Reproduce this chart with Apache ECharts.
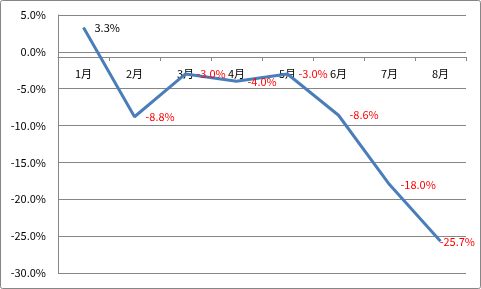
<!DOCTYPE html>
<html><head><meta charset="utf-8">
<script src="https://cdn.jsdelivr.net/npm/echarts@6/dist/echarts.min.js"></script>
<style>html,body{margin:0;padding:0;background:#fff}#c{width:481px;height:289px}</style>
</head><body><div id="c"></div>
<script>
const categories = ['1月','2月','3月','4月','5月','6月','7月','8月'];
const values = [3.3, -8.8, -3.0, -4.0, -3.0, -8.6, -18.0, -25.7];
const labelColors = ['#000000','#FF0000','#FF0000','#FF0000','#FF0000','#FF0000','#FF0000','#FF0000'];
const yTicks = {min: -30, max: 5, interval: 5};

const font = '"Noto Sans CJK JP", "Liberation Sans", sans-serif';
const W = 481;
const chart = echarts.init(document.getElementById('c'), null, {renderer: 'canvas'});
const option = {
  animation: false,
  backgroundColor: '#fff',
  graphic: [{type: 'rect', shape: {x: 0.5, y: 0.5, width: 480, height: 288, r: 2}, style: {fill: 'none', stroke: '#868686', lineWidth: 1}, z: 100}],
  grid: {left: 58, right: 15, top: 15, bottom: 16},
  xAxis: {
    type: 'category', data: categories, boundaryGap: true, position: 'bottom', offset: 0,
    axisLine: {onZero: false, lineStyle: {color: '#868686', width: 1}},
    axisTick: {show: true, length: 4, interval: 0, lineStyle: {color: '#868686', width: 1}},
    axisLabel: {margin: 11, color: '#000', fontSize: 11, fontFamily: font, interval: 0},
    splitLine: {show: false}
  },
  yAxis: {
    type: 'value', min: yTicks.min, max: yTicks.max, interval: yTicks.interval,
    axisLine: {show: true, onZero: false, lineStyle: {color: '#868686', width: 1}},
    axisTick: {show: false},
    axisLabel: {margin: 12, color: '#000', fontSize: 11, fontFamily: font, formatter: v => v.toFixed(1) + '%'},
    splitLine: {show: true, lineStyle: {color: '#868686', width: 1}}
  },
  series: [{
    type: 'line',
    data: values.map((v, i) => ({value: v, label: {color: labelColors[i]}})),
    symbol: 'circle', symbolSize: 2, showSymbol: true,
    itemStyle: {color: 'rgba(0,0,0,0)', borderWidth: 0},
    emphasis: {disabled: true},
    lineStyle: {color: '#4A7EBB', width: 3},
    label: {show: true, position: 'right', distance: 10, fontSize: 11, fontFamily: font, formatter: p => p.value.toFixed(1) + '%'},
    labelLayout: function (p) {
      const r = p.labelRect;
      if (r.x + r.width > W - 6) {
        return {x: W - 6 - r.width, y: r.y + r.height / 2 + 1, align: 'left', verticalAlign: 'middle'};
      }
      return {hideOverlap: false};
    }
  }]
};
chart.setOption(option);
// place the category axis on the zero line, using the value scale
const zeroY = chart.convertToPixel({yAxisIndex: 0}, 0);
const bottomY = chart.convertToPixel({yAxisIndex: 0}, yTicks.min);
chart.setOption({xAxis: {offset: -(bottomY - zeroY)}});
</script></body></html>
